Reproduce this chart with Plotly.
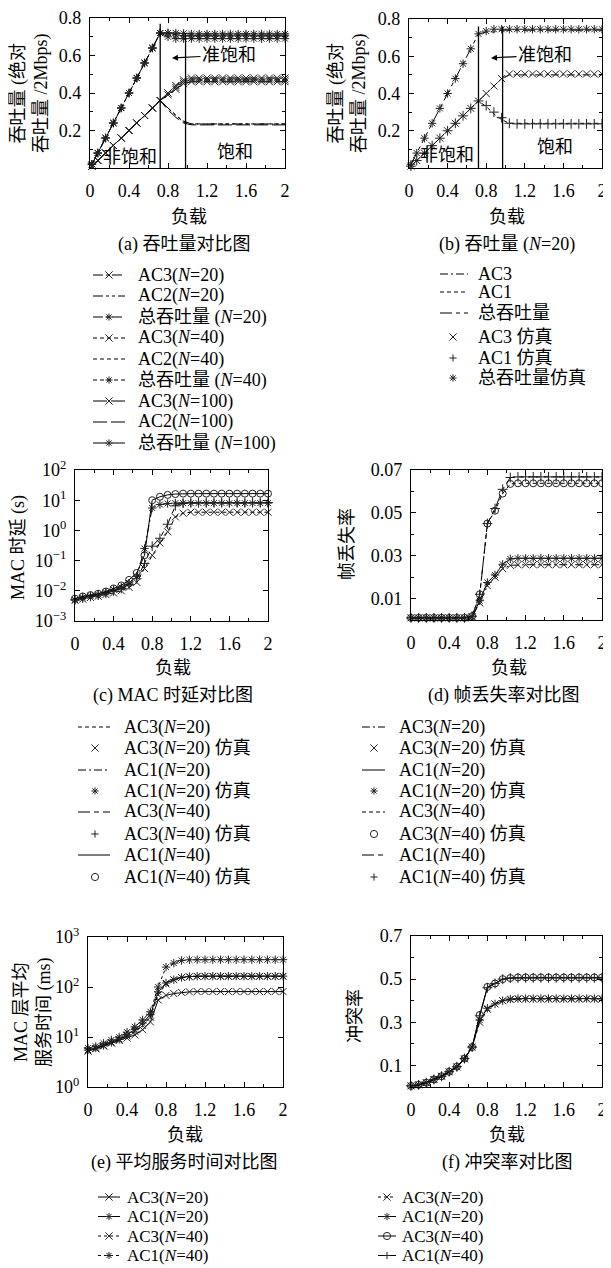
import plotly.graph_objects as go

# The page body has an 8px default margin; the figure is sized and all
# layout positions are given in window pixels, shifted by that offset.
WIN_W, WIN_H = 611, 1268
OX, OY = 8, 8
FW, FH = WIN_W - OX, WIN_H - OY
FONT = "Liberation Serif, Noto Sans CJK SC, serif"
INK = "black"
MK = "#222222"

# ---------------- data ----------------
LOAD_T = [0.02, 0.08, 0.16, 0.24, 0.32, 0.40, 0.48, 0.56, 0.64, 0.72, 0.80, 0.88, 0.96,
          1.04, 1.12, 1.20, 1.28, 1.36, 1.44, 1.52, 1.60, 1.68, 1.76, 1.84, 1.92, 2.00]
LOAD = [0.00, 0.08, 0.16, 0.24, 0.32, 0.40, 0.48, 0.56, 0.64, 0.72, 0.80, 0.88, 0.96,
        1.04, 1.12, 1.20, 1.28, 1.36, 1.44, 1.52, 1.60, 1.68, 1.76, 1.84, 1.92, 2.00]
X_TICKS = [0, 0.4, 0.8, 1.2, 1.6, 2]
X_TICKTEXT = ['0', '0.4', '0.8', '1.2', '1.6', '2']
X_MINOR = [0.2, 0.6, 1.0, 1.4, 1.8]

# (a) throughput comparison
a_ac3_20 = [0.01, 0.04, 0.08, 0.12, 0.16, 0.20, 0.24, 0.28, 0.32, 0.36, 0.40, 0.44, 0.47,
            0.48, 0.48, 0.48, 0.48, 0.48, 0.48, 0.48, 0.48, 0.48, 0.48, 0.48, 0.48, 0.48]
a_ac2_20 = [0.01, 0.04, 0.08, 0.12, 0.16, 0.20, 0.24, 0.28, 0.32, 0.36, 0.32, 0.28, 0.25,
            0.235, 0.235, 0.235, 0.235, 0.235, 0.235, 0.235, 0.235, 0.235, 0.235, 0.235, 0.235, 0.235]
a_tot_20 = [0.02, 0.08, 0.16, 0.24, 0.32, 0.40, 0.48, 0.56, 0.64, 0.72, 0.72, 0.72, 0.718,
            0.715, 0.715, 0.715, 0.715, 0.715, 0.715, 0.715, 0.715, 0.715, 0.715, 0.715, 0.715, 0.715]
a_ac3_40 = [0.01, 0.04, 0.08, 0.12, 0.16, 0.20, 0.24, 0.28, 0.32, 0.36, 0.40, 0.43, 0.46,
            0.47, 0.47, 0.47, 0.47, 0.47, 0.47, 0.47, 0.47, 0.47, 0.47, 0.47, 0.47, 0.47]
a_ac2_40 = [0.01, 0.04, 0.08, 0.12, 0.16, 0.20, 0.24, 0.28, 0.32, 0.36, 0.32, 0.28, 0.245,
            0.235, 0.235, 0.235, 0.235, 0.235, 0.235, 0.235, 0.235, 0.235, 0.235, 0.235, 0.235, 0.235]
a_tot_40 = [0.02, 0.08, 0.16, 0.24, 0.32, 0.40, 0.48, 0.56, 0.64, 0.72, 0.72, 0.71, 0.705,
            0.705, 0.705, 0.705, 0.705, 0.705, 0.705, 0.705, 0.705, 0.705, 0.705, 0.705, 0.705, 0.705]
a_ac3_100 = [0.01, 0.04, 0.08, 0.12, 0.16, 0.20, 0.24, 0.28, 0.32, 0.36, 0.39, 0.42, 0.45,
             0.46, 0.46, 0.46, 0.46, 0.46, 0.46, 0.46, 0.46, 0.46, 0.46, 0.46, 0.46, 0.46]
a_ac2_100 = [0.01, 0.04, 0.08, 0.12, 0.16, 0.20, 0.24, 0.28, 0.32, 0.36, 0.31, 0.27, 0.24,
             0.23, 0.23, 0.23, 0.23, 0.23, 0.23, 0.23, 0.23, 0.23, 0.23, 0.23, 0.23, 0.23]
a_tot_100 = [0.02, 0.08, 0.16, 0.24, 0.32, 0.40, 0.48, 0.56, 0.64, 0.72, 0.70, 0.69, 0.69,
             0.69, 0.69, 0.69, 0.69, 0.69, 0.69, 0.69, 0.69, 0.69, 0.69, 0.69, 0.69, 0.69]
a_vlines = [0.72, 0.98]
a_vtops = [0.77, 0.72]

# (b) throughput N=20, model and simulation
b_ac3 = [0.01, 0.04, 0.08, 0.12, 0.16, 0.20, 0.24, 0.28, 0.32, 0.36, 0.40, 0.44, 0.48,
         0.50, 0.50, 0.50, 0.50, 0.50, 0.50, 0.50, 0.50, 0.50, 0.50, 0.50, 0.50, 0.50]
b_ac1 = [0.01, 0.04, 0.08, 0.12, 0.16, 0.20, 0.24, 0.28, 0.32, 0.36, 0.33, 0.29, 0.26,
         0.24, 0.24, 0.24, 0.24, 0.24, 0.24, 0.24, 0.24, 0.24, 0.24, 0.24, 0.24, 0.24]
b_tot = [0.02, 0.08, 0.16, 0.24, 0.32, 0.40, 0.48, 0.56, 0.64, 0.72, 0.73, 0.73, 0.74,
         0.74, 0.74, 0.74, 0.74, 0.74, 0.74, 0.74, 0.74, 0.74, 0.74, 0.74, 0.74, 0.74]
b_ac3_sim = [0.01, 0.04, 0.08, 0.12, 0.16, 0.20, 0.24, 0.28, 0.32, 0.36, 0.40, 0.44, 0.48,
             0.505, 0.505, 0.505, 0.505, 0.505, 0.505, 0.505, 0.505, 0.505, 0.505, 0.505, 0.505, 0.505]
b_ac1_sim = [0.01, 0.04, 0.08, 0.12, 0.16, 0.20, 0.24, 0.28, 0.32, 0.36, 0.335, 0.30, 0.27,
             0.24, 0.237, 0.237, 0.237, 0.237, 0.237, 0.237, 0.237, 0.237, 0.237, 0.237, 0.237, 0.237]
b_tot_sim = [0.02, 0.08, 0.16, 0.24, 0.32, 0.40, 0.48, 0.56, 0.64, 0.72, 0.735, 0.745, 0.745,
             0.745, 0.745, 0.745, 0.745, 0.745, 0.745, 0.745, 0.745, 0.745, 0.745, 0.745, 0.745, 0.745]
b_vlines = [0.72, 0.97]
b_vtops = [0.76, 0.76]

# (c) MAC delay (s)
c_ac3_20 = [0.0048, 0.0053, 0.0060, 0.0066, 0.0075, 0.0085, 0.010, 0.013, 0.019, 0.055, 0.15, 0.38, 0.9,
            2.8, 3.7, 4.0, 4.0, 4.0, 4.0, 4.0, 4.0, 4.0, 4.0, 4.0, 4.0, 4.0]
c_ac1_20 = [0.0050, 0.0060, 0.0068, 0.0075, 0.0088, 0.011, 0.013, 0.018, 0.030, 0.25, 5.5, 7.2, 7.8,
            8.0, 8.0, 8.0, 8.0, 8.0, 8.0, 8.0, 8.0, 8.0, 8.0, 8.0, 8.0, 8.0]
c_ac3_40 = [0.0050, 0.0058, 0.0065, 0.0072, 0.0083, 0.0098, 0.012, 0.016, 0.025, 0.08, 0.30, 0.55, 1.6,
            6.5, 8.0, 8.4, 8.4, 8.4, 8.4, 8.4, 8.4, 8.4, 8.4, 8.4, 8.4, 8.4]
c_ac1_40 = [0.0055, 0.0065, 0.0072, 0.0080, 0.0095, 0.012, 0.015, 0.023, 0.039, 0.15, 10.0, 13.0, 15.0,
            16.0, 16.5, 16.5, 16.5, 16.5, 16.5, 16.5, 16.5, 16.5, 16.5, 16.5, 16.5, 16.5]

# (d) frame loss rate
d_ac3_20 = [0.001, 0.001, 0.001, 0.001, 0.001, 0.001, 0.001, 0.001, 0.0015, 0.008, 0.016, 0.020, 0.024,
            0.0255, 0.0258, 0.0258, 0.0258, 0.0258, 0.0258, 0.0258, 0.0258, 0.0258, 0.0258, 0.0258, 0.0258, 0.0258]
d_ac1_20 = [0.001, 0.001, 0.001, 0.001, 0.001, 0.001, 0.001, 0.001, 0.0015, 0.009, 0.0175, 0.021, 0.026,
            0.0285, 0.0288, 0.0288, 0.0288, 0.0288, 0.0288, 0.0288, 0.0288, 0.0288, 0.0288, 0.0288, 0.0288, 0.0288]
d_ac3_40 = [0.001, 0.001, 0.001, 0.001, 0.001, 0.001, 0.001, 0.001, 0.0018, 0.012, 0.045, 0.051, 0.059,
            0.0635, 0.0638, 0.0638, 0.0638, 0.0638, 0.0638, 0.0638, 0.0638, 0.0638, 0.0638, 0.0638, 0.0638, 0.0638]
d_ac1_40 = [0.001, 0.001, 0.001, 0.001, 0.001, 0.001, 0.001, 0.001, 0.0018, 0.012, 0.045, 0.052, 0.061,
            0.0665, 0.0668, 0.0668, 0.0668, 0.0668, 0.0668, 0.0668, 0.0668, 0.0668, 0.0668, 0.0668, 0.0668, 0.0668]

# (e) MAC average service time (ms)
e_ac3_20 = [5.2, 5.8, 6.6, 7.6, 8.5, 9.5, 11, 14, 20, 55, 68, 74, 78,
            80, 81, 81, 81, 81, 81, 81, 81, 81, 81, 81, 81, 81]
e_ac1_20 = [5.5, 6.0, 6.8, 7.8, 9.0, 11, 14, 19, 28, 80, 120, 140, 155,
            162, 165, 165, 165, 165, 165, 165, 165, 165, 165, 165, 165, 165]
e_ac3_40 = [5.3, 5.9, 6.7, 7.6, 8.8, 10.5, 13, 17, 25, 70, 115, 140, 155,
            160, 163, 163, 163, 163, 163, 163, 163, 163, 163, 163, 163, 163]
e_ac1_40 = [6.0, 6.5, 7.5, 8.7, 10, 12.5, 16, 22, 32, 100, 250, 300, 340,
            350, 352, 352, 352, 352, 352, 352, 352, 352, 352, 352, 352, 352]

# (f) collision rate
f_ac3_20 = [0.005, 0.010, 0.020, 0.035, 0.050, 0.070, 0.093, 0.130, 0.185, 0.300, 0.360, 0.385, 0.400,
            0.405, 0.408, 0.408, 0.408, 0.408, 0.408, 0.408, 0.408, 0.408, 0.408, 0.408, 0.408, 0.408]
f_ac1_20 = [0.005, 0.010, 0.020, 0.035, 0.050, 0.070, 0.093, 0.130, 0.185, 0.310, 0.365, 0.385, 0.400,
            0.408, 0.410, 0.410, 0.410, 0.410, 0.410, 0.410, 0.410, 0.410, 0.410, 0.410, 0.410, 0.410]
f_ac3_40 = [0.005, 0.010, 0.020, 0.035, 0.050, 0.071, 0.094, 0.132, 0.185, 0.334, 0.464, 0.480, 0.500,
            0.505, 0.508, 0.508, 0.508, 0.508, 0.508, 0.508, 0.508, 0.508, 0.508, 0.508, 0.508, 0.508]
f_ac1_40 = [0.005, 0.010, 0.020, 0.035, 0.050, 0.071, 0.094, 0.132, 0.185, 0.330, 0.460, 0.480, 0.500,
            0.505, 0.506, 0.506, 0.506, 0.506, 0.506, 0.506, 0.506, 0.506, 0.506, 0.506, 0.506, 0.506]

# ---------------- layout geometry (window pixels) ----------------
PANELS = {
    'a': ((90, 285), (18, 168)),
    'b': ((409, 602), (19, 168)),
    'c': ((75, 268), (470, 621)),
    'd': ((411, 602), (470, 620)),
    'e': ((88, 283), (937, 1087)),
    'f': ((411, 602), (936, 1087)),
}
KEYS = 'abcdef'
AX = {k: (('x' if i == 0 else f'x{i+1}'), ('y' if i == 0 else f'y{i+1}')) for i, k in enumerate(KEYS)}
SYM = {'x': 'x-thin-open', '+': 'cross-thin-open', '*': 'asterisk-open', 'o': 'circle-open'}


def PX(x):
    return (x - OX) / FW


def PY(y):
    return 1 - (y - OY) / FH


DASH_LS = "10px,3px,3px,3px"
DASH_LSS = "10px,3px,3px,3px,3px,3px"
DASH_D = "4px,3px"
DASH_L = "14px,4px"
DASH_DD = "8px,3px,2px,3px"
DASH_LD = "12px,4px,5px,4px"
DASH_S = "3px,3px"

fig = go.Figure()


def add(panel, x, y, dash=None, sym=None, width=1.0):
    xa, ya = AX[panel]
    mode = 'lines' if sym is None else ('markers' if dash is None else 'lines+markers')
    kw = dict(x=x, y=y, mode=mode, xaxis=xa, yaxis=ya, showlegend=False,
              cliponaxis=False, hoverinfo='skip')
    if dash is not None:
        kw['line'] = dict(color=INK, width=width, dash=dash)
    if sym is not None:
        kw['marker'] = dict(symbol=SYM[sym], size=7, color=MK, line=dict(width=1, color=MK))
    fig.add_trace(go.Scatter(**kw))


# (a)
add('a', LOAD_T, a_ac2_20, DASH_LSS)
add('a', LOAD_T, a_ac2_40, DASH_D)
add('a', LOAD_T, a_ac2_100, DASH_L)
add('a', LOAD_T, a_ac3_20, DASH_LS, 'x')
add('a', LOAD_T, a_ac3_40, DASH_D, 'x')
add('a', LOAD_T, a_ac3_100, DASH_L, 'x')
add('a', LOAD_T, a_tot_20, DASH_LS, '*')
add('a', LOAD_T, a_tot_40, DASH_D, '*')
add('a', LOAD_T, a_tot_100, DASH_L, '*')
for v, t in zip(a_vlines, a_vtops):
    add('a', [v, v], [0, t], 'solid', width=1.3)

# (b)
add('b', LOAD_T, b_ac3, DASH_DD)
add('b', LOAD_T, b_ac1, DASH_D)
add('b', LOAD_T, b_tot, "12px,4px,4px,4px")
add('b', LOAD_T, b_ac3_sim, None, 'x')
add('b', LOAD_T, b_ac1_sim, None, '+')
add('b', LOAD_T, b_tot_sim, None, '*')
for v, t in zip(b_vlines, b_vtops):
    add('b', [v, v], [0, t], 'solid', width=1.3)

# (c)
add('c', LOAD, c_ac3_20, DASH_D)
add('c', LOAD, c_ac3_20, None, 'x')
add('c', LOAD, c_ac1_20, DASH_DD)
add('c', LOAD, c_ac1_20, None, '*')
add('c', LOAD, c_ac3_40, DASH_LD)
add('c', LOAD, c_ac3_40, None, '+')
add('c', LOAD, c_ac1_40, 'solid')
add('c', LOAD, c_ac1_40, None, 'o')

# (d)
add('d', LOAD, d_ac3_20, DASH_DD)
add('d', LOAD, d_ac3_20, None, 'x')
add('d', LOAD, d_ac1_20, 'solid')
add('d', LOAD, d_ac1_20, None, '*')
add('d', LOAD, d_ac3_40, DASH_D)
add('d', LOAD, d_ac3_40, None, 'o')
add('d', LOAD, d_ac1_40, DASH_LD)
add('d', LOAD, d_ac1_40, None, '+')

# (e)
add('e', LOAD, e_ac3_20, 'solid', 'x')
add('e', LOAD, e_ac1_20, 'solid', '*')
add('e', LOAD, e_ac3_40, DASH_S, 'x')
add('e', LOAD, e_ac1_40, DASH_S, '*')

# (f)
add('f', LOAD, f_ac3_20, DASH_S, 'x')
add('f', LOAD, f_ac1_20, 'solid', '*')
add('f', LOAD, f_ac3_40, 'solid', 'o')
add('f', LOAD, f_ac1_40, 'solid', '+')

# ---------------- axes ----------------
common = dict(showline=True, linecolor=INK, linewidth=1.3, mirror='allticks',
              ticks='inside', ticklen=5, tickwidth=1, tickcolor=INK,
              showgrid=False, zeroline=False, automargin=False,
              ticklabeloverflow='allow',
              tickfont=dict(family=FONT, size=18, color=INK))


def sup(p):
    return '10<sup>' + (('\u2212' + str(-p)) if p < 0 else str(p)) + '</sup>'


MINOR_STYLE = dict(ticks='inside', ticklen=3, tickcolor=INK, showgrid=False)
YCFG = {
    'a': dict(range=[0, 0.8], tickvals=[0.2, 0.4, 0.6, 0.8], ticktext=['0.2', '0.4', '0.6', '0.8'],
              minor=dict(tickvals=[0.1, 0.3, 0.5, 0.7], **MINOR_STYLE)),
    'b': dict(range=[0, 0.8], tickvals=[0.2, 0.4, 0.6, 0.8], ticktext=['0.2', '0.4', '0.6', '0.8'],
              minor=dict(tickvals=[0.1, 0.3, 0.5, 0.7], **MINOR_STYLE)),
    'c': dict(type='log', range=[-3, 2], tickvals=[1e-3, 1e-2, 1e-1, 1, 10, 100],
              ticktext=[sup(p) for p in (-3, -2, -1, 0, 1, 2)]),
    'd': dict(range=[0, 0.07], tickvals=[0.01, 0.03, 0.05, 0.07],
              ticktext=['0.01', '0.03', '0.05', '0.07'],
              minor=dict(tickvals=[0.02, 0.04, 0.06], **MINOR_STYLE)),
    'e': dict(type='log', range=[0, 3], tickvals=[1, 10, 100, 1000],
              ticktext=[sup(p) for p in (0, 1, 2, 3)]),
    'f': dict(range=[0, 0.7], tickvals=[0.1, 0.3, 0.5, 0.7], ticktext=['0.1', '0.3', '0.5', '0.7'],
              minor=dict(tickvals=[0.2, 0.4, 0.6], **MINOR_STYLE)),
}

layout = dict(template='none', width=FW, height=FH, margin=dict(l=0, r=0, t=0, b=0, pad=0),
              paper_bgcolor='white', plot_bgcolor='white', showlegend=False)
for i, k in enumerate(KEYS):
    (px0, px1), (py0, py1) = PANELS[k]
    sfx = '' if i == 0 else str(i + 1)
    xa, ya = AX[k]
    layout['xaxis' + sfx] = dict(domain=[PX(px0), PX(px1)], anchor=ya, range=[0, 2],
                                 tickvals=X_TICKS, ticktext=X_TICKTEXT,
                                 ticklabelstandoff=6,
                                 minor=dict(tickvals=X_MINOR, **MINOR_STYLE),
                                 **common)
    layout['yaxis' + sfx] = dict(domain=[PY(py1), PY(py0)], anchor=xa,
                                 ticklabelstandoff=4, **YCFG[k], **common)
fig.update_layout(**layout)

# ---------------- text & legends ----------------
ann = []
shapes = []


def txt(x, y, s, size=18, xanchor='center', angle=0):
    a = dict(x=PX(x), y=PY(y), xref='paper', yref='paper', text=s, showarrow=False,
             xanchor=xanchor, yanchor='middle', textangle=angle, borderpad=0,
             font=dict(family=FONT, size=size, color=INK))
    if angle:
        a['opacity'] = 0.99
    ann.append(a)


def arrow_txt(x, y, hx, hy, s, size=18):
    ann.append(dict(x=PX(hx), y=PY(hy), xref='paper', yref='paper', text=s, showarrow=True,
                    ax=x - hx, ay=y - hy, axref='pixel', ayref='pixel',
                    arrowhead=2, arrowsize=1, arrowwidth=1.2, arrowcolor=INK, standoff=0,
                    font=dict(family=FONT, size=size, color=INK)))


def marker_shape(x, y, sym, r=3.6):
    base = dict(xref='paper', yref='paper', xsizemode='pixel', ysizemode='pixel',
                xanchor=PX(x), yanchor=PY(y), line=dict(color=MK, width=1))
    if sym == 'o':
        return dict(type='circle', x0=-r, x1=r, y0=-r, y1=r, **base)
    if sym == 'x':
        p = f"M{-r},{-r}L{r},{r}M{-r},{r}L{r},{-r}"
    elif sym == '+':
        p = f"M{-r},0L{r},0M0,{-r}L0,{r}"
    else:
        d = round(r * 0.72, 2)
        p = f"M{-r},0L{r},0M0,{-r}L0,{r}M{-d},{-d}L{d},{d}M{-d},{d}L{d},{-d}"
    return dict(type='path', path=p, **base)


def legend_block(rows_y, x0, x1, xm, xt, entries, size=18):
    for y, (dash, sym, label) in zip(rows_y, entries):
        if dash:
            shapes.append(dict(type='line', xref='paper', yref='paper', x0=PX(x0), x1=PX(x1),
                               y0=PY(y), y1=PY(y), line=dict(color=INK, width=1, dash=dash)))
        if sym:
            shapes.append(marker_shape(xm, y, sym))
        txt(xt, y, label, size=size, xanchor='left')


N20, N40, N100 = '(<i>N</i>=20)', '(<i>N</i>=40)', '(<i>N</i>=100)'

# y titles
txt(30, 93, '吞吐量 (绝对<br>吞吐量 /2Mbps)', angle=-90)
txt(348, 93, '吞吐量 (绝对<br>吞吐量 /2Mbps)', angle=-90)
txt(18, 548, 'MAC 时延 (s)', angle=-90)
txt(347, 544, '帧丢失率', angle=-90)
txt(33, 1012, 'MAC 层平均<br>服务时间 (ms)', angle=-90)
txt(355, 1016, '冲突率', angle=-90)

# x titles
for cx, cy in [(189, 217), (507, 217), (173, 668), (509, 668), (185, 1135), (507, 1135)]:
    txt(cx, cy, '负载')

# captions
txt(184, 244, '(a) 吞吐量对比图')
txt(507, 244, '(b) 吞吐量 (<i>N</i>=20)')
txt(173, 696, '(c) MAC 时延对比图')
txt(504, 696, '(d) 帧丢失率对比图')
txt(184, 1162, '(e) 平均服务时间对比图')
txt(507, 1162, '(f) 冲突率对比图')

# region labels
arrow_txt(229, 55, 172, 58, '准饱和')
txt(130, 157, '非饱和')
txt(235, 152, '饱和')
arrow_txt(545, 55, 491, 58, '准饱和')
txt(447, 155, '非饱和')
txt(555, 147, '饱和')

# legends
legend_block([275, 296, 317, 338, 359, 380, 401, 422, 443], 93, 125, 109, 137, [
    (DASH_LS, 'x', 'AC3' + N20),
    (DASH_LSS, None, 'AC2' + N20),
    (DASH_LS, '*', '总吞吐量 ' + N20),
    (DASH_D, 'x', 'AC3' + N40),
    (DASH_D, None, 'AC2' + N40),
    (DASH_D, '*', '总吞吐量 ' + N40),
    (DASH_L, 'x', 'AC3' + N100),
    (DASH_L, None, 'AC2' + N100),
    (DASH_L, '*', '总吞吐量 ' + N100),
])
legend_block([274, 292, 313, 337, 358, 378], 440, 468, 453, 477, [
    (DASH_DD, None, 'AC3'),
    (DASH_D, None, 'AC1'),
    ("12px,4px,4px,4px", None, '总吞吐量'),
    (None, 'x', 'AC3 仿真'),
    (None, '+', 'AC1 仿真'),
    (None, '*', '总吞吐量仿真'),
])
ROWS_CD = [727, 748, 770, 791, 812, 834, 855, 877]
legend_block(ROWS_CD, 78, 110, 95, 123, [
    (DASH_D, None, 'AC3' + N20),
    (None, 'x', 'AC3' + N20 + ' 仿真'),
    (DASH_DD, None, 'AC1' + N20),
    (None, '*', 'AC1' + N20 + ' 仿真'),
    (DASH_LD, None, 'AC3' + N40),
    (None, '+', 'AC3' + N40 + ' 仿真'),
    ('solid', None, 'AC1' + N40),
    (None, 'o', 'AC1' + N40 + ' 仿真'),
])
legend_block(ROWS_CD, 362, 385, 374, 398, [
    (DASH_DD, None, 'AC3' + N20),
    (None, 'x', 'AC3' + N20 + ' 仿真'),
    ('solid', None, 'AC1' + N20),
    (None, '*', 'AC1' + N20 + ' 仿真'),
    (DASH_D, None, 'AC3' + N40),
    (None, 'o', 'AC3' + N40 + ' 仿真'),
    (DASH_LD, None, 'AC1' + N40),
    (None, '+', 'AC1' + N40 + ' 仿真'),
])
ROWS_EF = [1197, 1216.5, 1236, 1255.5]
legend_block(ROWS_EF, 98, 120, 109, 126, [
    ('solid', 'x', 'AC3' + N20),
    ('solid', '*', 'AC1' + N20),
    (DASH_S, 'x', 'AC3' + N40),
    (DASH_S, '*', 'AC1' + N40),
], size=17)
legend_block(ROWS_EF, 378, 396, 387, 401, [
    (DASH_S, 'x', 'AC3' + N20),
    ('solid', '*', 'AC1' + N20),
    ('solid', 'o', 'AC3' + N40),
    ('solid', '+', 'AC1' + N40),
], size=17)

fig.update_layout(annotations=ann, shapes=shapes)
fig.write_html("out.html")
